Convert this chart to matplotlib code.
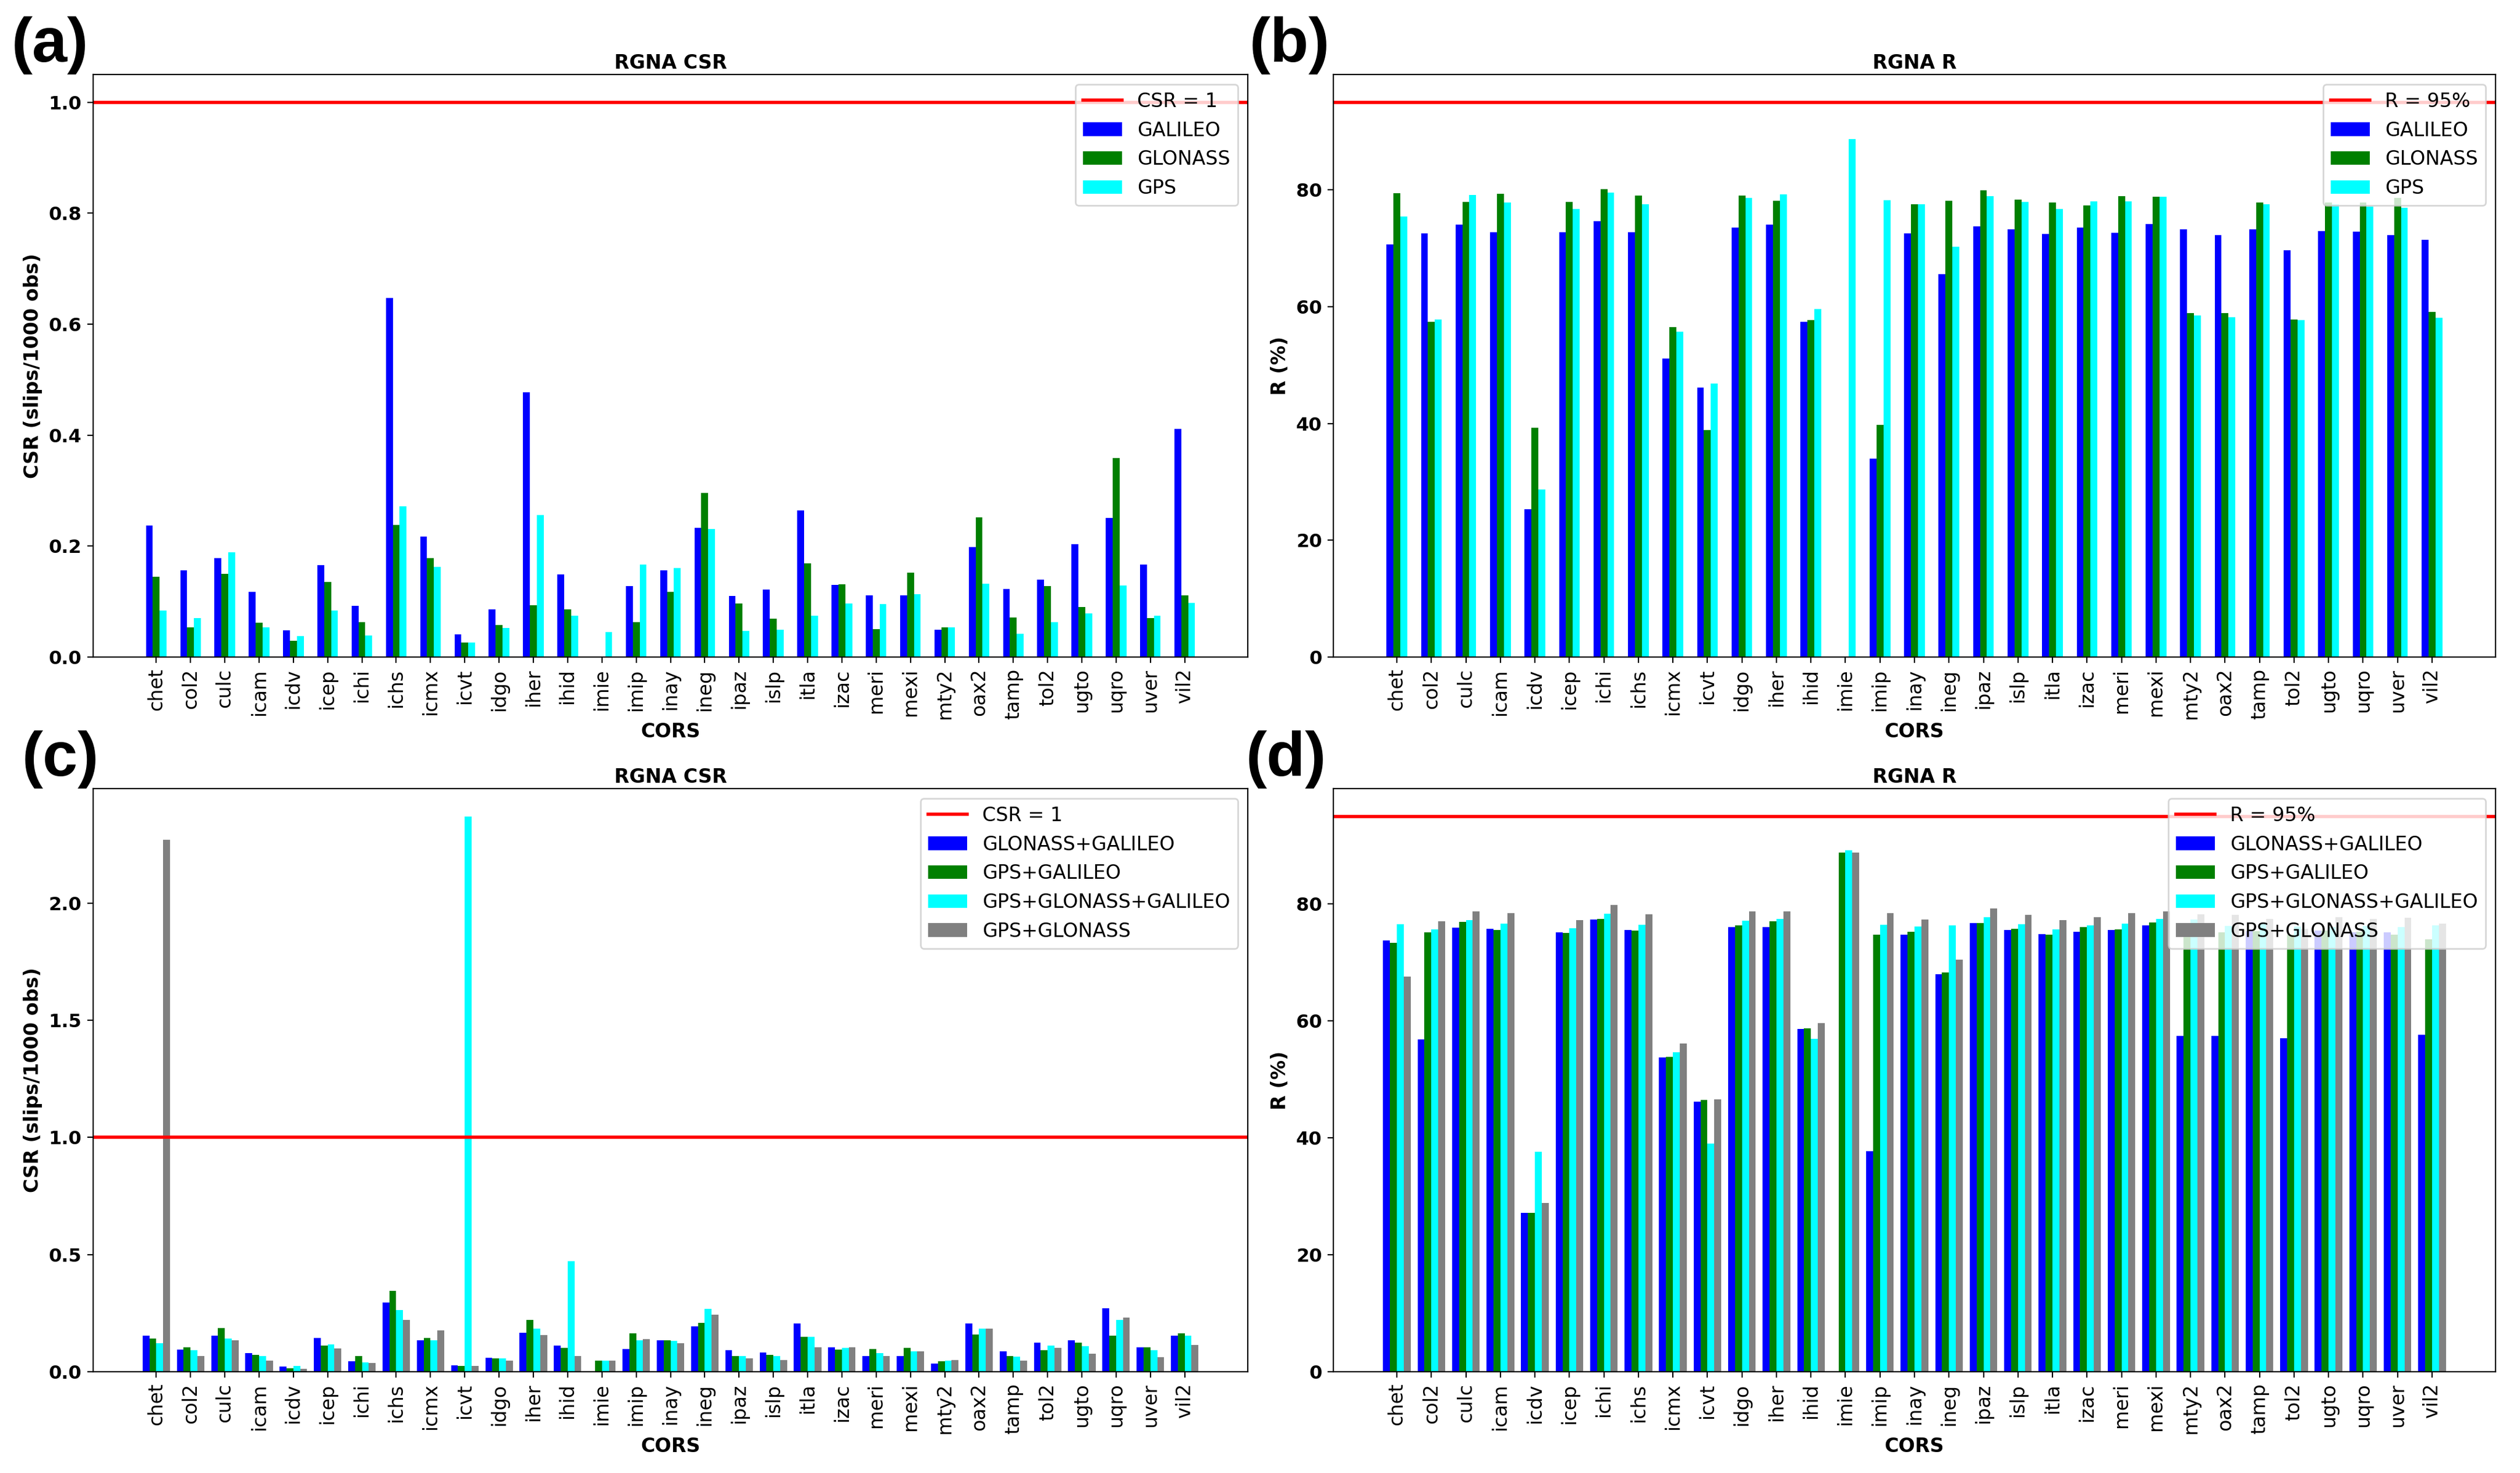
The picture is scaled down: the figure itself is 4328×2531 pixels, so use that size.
import numpy as np
import matplotlib
matplotlib.use("Agg")
import matplotlib.pyplot as plt

# stations (CORS)
stations = ["chet", "col2", "culc", "icam", "icdv", "icep", "ichi", "ichs", "icmx", "icvt",
            "idgo", "iher", "ihid", "imie", "imip", "inay", "ineg", "ipaz", "islp", "itla",
            "izac", "meri", "mexi", "mty2", "oax2", "tamp", "tol2", "ugto", "uqro", "uver", "vil2"]

# (a) CSR single constellation
csr_galileo = [0.237, 0.156, 0.178, 0.117, 0.048, 0.166, 0.092, 0.647, 0.217, 0.041,
               0.086, 0.477, 0.149, 0.0, 0.128, 0.156, 0.233, 0.110, 0.122, 0.264,
               0.130, 0.111, 0.111, 0.049, 0.198, 0.123, 0.140, 0.203, 0.251, 0.167, 0.411]
csr_glonass = [0.145, 0.054, 0.150, 0.062, 0.029, 0.135, 0.063, 0.238, 0.178, 0.026,
               0.058, 0.093, 0.086, 0.0, 0.063, 0.117, 0.296, 0.096, 0.069, 0.169,
               0.131, 0.050, 0.152, 0.054, 0.252, 0.071, 0.128, 0.090, 0.359, 0.070, 0.111]
csr_gps = [0.084, 0.070, 0.189, 0.054, 0.038, 0.084, 0.039, 0.272, 0.163, 0.026,
           0.052, 0.256, 0.075, 0.045, 0.167, 0.160, 0.231, 0.047, 0.049, 0.075,
           0.097, 0.095, 0.113, 0.054, 0.132, 0.042, 0.063, 0.079, 0.129, 0.074, 0.098]

# (b) R single constellation
r_galileo = [70.7, 72.5, 74.0, 72.7, 25.3, 72.7, 74.6, 72.7, 51.1, 46.1,
             73.5, 74.0, 57.4, 0.0, 34.0, 72.5, 65.6, 73.7, 73.2, 72.4,
             73.5, 72.6, 74.1, 73.2, 72.2, 73.2, 69.7, 72.9, 72.8, 72.2, 71.4]
r_glonass = [79.4, 57.4, 77.9, 79.3, 39.3, 77.9, 80.1, 79.0, 56.5, 38.9,
             79.0, 78.1, 57.7, 0.0, 39.8, 77.5, 78.1, 79.9, 78.3, 77.8,
             77.3, 78.9, 78.8, 58.9, 58.9, 77.8, 57.8, 77.8, 77.8, 78.6, 59.1]
r_gps = [75.4, 57.8, 79.1, 77.8, 28.7, 76.7, 79.5, 77.5, 55.7, 46.8,
         78.6, 79.2, 59.6, 88.7, 78.2, 77.5, 70.3, 78.9, 77.9, 76.7,
         78.0, 78.0, 78.8, 58.5, 58.2, 77.5, 57.7, 77.5, 77.1, 76.9, 58.1]

# (c) CSR combinations
csr_glo_gal = [0.155, 0.095, 0.155, 0.079, 0.022, 0.143, 0.044, 0.296, 0.135, 0.028,
               0.060, 0.167, 0.111, 0.0, 0.097, 0.135, 0.193, 0.091, 0.083, 0.205,
               0.105, 0.068, 0.068, 0.034, 0.207, 0.087, 0.123, 0.133, 0.270, 0.105, 0.153]
csr_gps_gal = [0.141, 0.105, 0.187, 0.073, 0.016, 0.113, 0.066, 0.344, 0.143, 0.026,
               0.058, 0.222, 0.103, 0.046, 0.165, 0.135, 0.209, 0.066, 0.073, 0.149,
               0.095, 0.097, 0.101, 0.044, 0.159, 0.068, 0.093, 0.123, 0.155, 0.105, 0.163]
csr_gps_glo_gal = [0.121, 0.093, 0.141, 0.066, 0.024, 0.117, 0.040, 0.264, 0.135, 2.37,
                   0.056, 0.183, 0.473, 0.046, 0.135, 0.131, 0.268, 0.068, 0.068, 0.149,
                   0.103, 0.079, 0.087, 0.046, 0.185, 0.064, 0.111, 0.109, 0.220, 0.091, 0.153]
csr_gps_glo = [2.27, 0.068, 0.133, 0.046, 0.012, 0.099, 0.038, 0.222, 0.177, 0.024,
               0.048, 0.157, 0.068, 0.046, 0.139, 0.121, 0.244, 0.058, 0.050, 0.105,
               0.105, 0.068, 0.087, 0.050, 0.183, 0.046, 0.101, 0.077, 0.232, 0.062, 0.115]

# (d) R combinations
r_glo_gal = [73.8, 56.8, 76.0, 75.8, 27.2, 75.2, 77.4, 75.6, 53.8, 46.2,
             76.1, 76.1, 58.6, 0.0, 37.7, 74.8, 68.0, 76.8, 75.6, 74.9,
             75.3, 75.6, 76.4, 57.4, 57.4, 75.4, 57.0, 75.5, 75.2, 75.2, 57.6]
r_gps_gal = [73.4, 75.2, 77.0, 75.6, 27.2, 75.1, 77.5, 75.5, 53.9, 46.5,
             76.4, 77.1, 58.7, 88.8, 74.8, 75.3, 68.3, 76.8, 75.8, 74.8,
             76.1, 75.7, 76.9, 74.4, 75.2, 75.4, 74.8, 75.5, 75.3, 74.8, 74.0]
r_gps_glo_gal = [76.6, 75.7, 77.3, 76.7, 37.6, 75.9, 78.3, 76.5, 54.7, 39.0,
                 77.2, 77.5, 56.9, 89.2, 76.5, 76.2, 76.4, 77.7, 76.6, 75.7,
                 76.4, 76.7, 77.5, 77.4, 76.3, 76.7, 76.2, 76.1, 76.3, 76.1, 76.4]
r_gps_glo = [67.6, 77.1, 78.7, 78.4, 28.9, 77.3, 79.8, 78.2, 56.1, 46.6,
             78.7, 78.7, 59.6, 88.8, 78.4, 77.4, 70.5, 79.2, 78.1, 77.3,
             77.7, 78.4, 78.7, 78.2, 78.1, 77.5, 75.8, 77.7, 77.5, 77.6, 76.7]

W, H = 4328, 2531
fig = plt.figure(figsize=(W / 200, H / 200), dpi=200)

x = np.arange(len(stations))
width = 0.2


def panel(rect, series, labels, colors, ref, ref_label, title, ylabel, ytop):
    ax = fig.add_axes(rect)
    n = len(series)
    offsets = (np.arange(n) - (n - 1) / 2) * width
    ax.axhline(ref, color="red", lw=2.0, label=ref_label)
    for vals, lab, col, off in zip(series, labels, colors, offsets):
        ax.bar(x + off, vals, width, color=col, label=lab)
    ax.set_xlim(-1.84, len(stations) - 1 + 1.84)
    ax.set_ylim(0, ytop)
    ax.set_xticks(x)
    ax.set_xticklabels(stations, rotation=90, fontsize=12)
    ax.tick_params(axis="y", labelsize=11.5)
    for t in ax.get_yticklabels():
        t.set_fontweight("bold")
    ax.set_title(title, fontsize=12, fontweight="bold", pad=3.5)
    ax.set_xlabel("CORS", fontsize=12, fontweight="bold", labelpad=2)
    ax.set_ylabel(ylabel, fontsize=12, fontweight="bold")
    ax.legend(loc="upper right", fontsize=12)
    return ax


def px_rect(l, t, r, b):
    return [l / W, 1 - b / H, (r - l) / W, (b - t) / H]


single_cols = ["blue", "green", "cyan"]
combo_cols = ["blue", "green", "cyan", "gray"]
combo_labels = ["GLONASS+GALILEO", "GPS+GALILEO", "GPS+GLONASS+GALILEO", "GPS+GLONASS"]

panel(px_rect(160, 128, 2143, 1129), [csr_galileo, csr_glonass, csr_gps],
      ["GALILEO", "GLONASS", "GPS"], single_cols, 1, "CSR = 1",
      "RGNA CSR", "CSR (slips/1000 obs)", 1.05)
panel(px_rect(2290, 128, 4286, 1129), [r_galileo, r_glonass, r_gps],
      ["GALILEO", "GLONASS", "GPS"], single_cols, 95, "R = 95%",
      "RGNA R", "R (%)", 99.75)
csr_max = max(max(csr_glo_gal), max(csr_gps_gal), max(csr_gps_glo_gal), max(csr_gps_glo))
panel(px_rect(160, 1355, 2143, 2357), [csr_glo_gal, csr_gps_gal, csr_gps_glo_gal, csr_gps_glo],
      combo_labels, combo_cols, 1, "CSR = 1",
      "RGNA CSR", "CSR (slips/1000 obs)", csr_max * 1.05)
panel(px_rect(2290, 1355, 4286, 2357), [r_glo_gal, r_gps_gal, r_gps_glo_gal, r_gps_glo],
      combo_labels, combo_cols, 95, "R = 95%",
      "RGNA R", "R (%)", 99.75)

# panel letters sitting just above each axes
for lab, lx, base in [("(a)", 20, 128), ("(b)", 2146, 128),
                      ("(c)", 38, 1355), ("(d)", 2140, 1355)]:
    fig.text(lx / W, 1 - base / H, lab, fontsize=39, fontweight="bold",
             family="Liberation Sans", ha="left", va="bottom")

fig.savefig("out.png", dpi=200)
